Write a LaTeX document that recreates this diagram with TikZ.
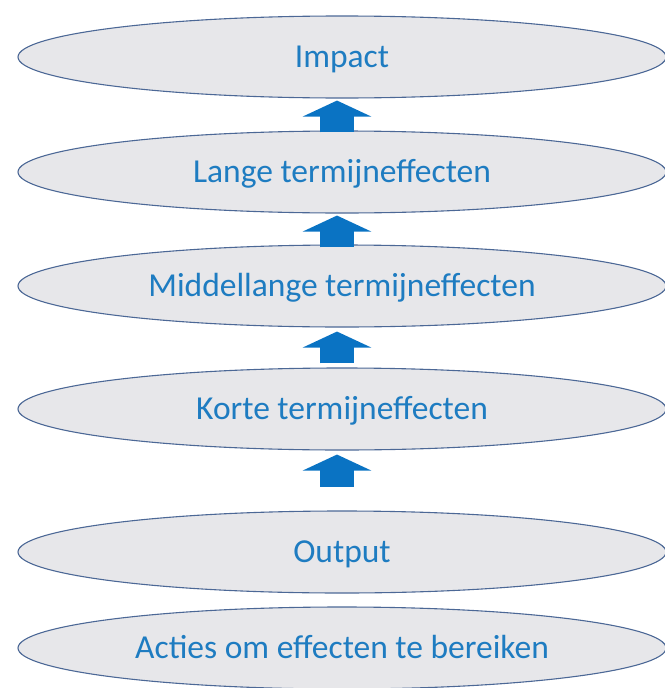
\documentclass[tikz,border=0pt]{standalone}
\usepackage{fontspec}
\setmainfont{Carlito}
\usepackage{tikz}
\usetikzlibrary{shapes.geometric,arrows.meta,positioning,calc}
\definecolor{ellfill}{RGB}{231,231,234}
\definecolor{elldraw}{RGB}{76,104,150}
\definecolor{txtblue}{RGB}{30,124,193}
\definecolor{arrblue}{RGB}{10,115,195}
\tikzstyle{niveau}=[ellipse, draw=elldraw, line width=1.1pt, fill=ellfill, minimum width=648pt, minimum height=82pt, inner sep=0pt, text=txtblue, font=\fontsize{33.5}{40}\selectfont, text height=21.5pt, text depth=0pt]
\tikzstyle{fleche}=[draw=arrblue, line width=34pt, -{Triangle[width=68pt,length=16pt]}]

\begin{document}
\begin{tikzpicture}[x=1pt,y=-1pt]

\useasboundingbox (0,0) rectangle (664,688);

% niveaux
\node[niveau] (impact) at (342,57) {Impact};
\node[niveau] (lange) at (342,172) {Lange termijneffecten};
\node[niveau] (middel) at (342,286) {Middellange termijneffecten};
\node[niveau] (korte) at (342,409) {Korte termijneffecten};
\node[niveau] (output) at (342,552) {Output};
\node[niveau] (acties) at (342,648) {Acties om effecten te bereiken};

% pijlen
\draw[fleche, shorten <=-2pt, shorten >=2pt] ([xshift=-5pt]lange.north) -- ([xshift=-5pt]impact.south);
\draw[fleche, shorten <=-3pt, shorten >=2pt] ([xshift=-5pt]middel.north) -- ([xshift=-5pt]lange.south);
\draw[fleche, shorten <=4pt, shorten >=4pt] ([xshift=-5pt]korte.north) -- ([xshift=-5pt]middel.south);
\coordinate (start) at ($(korte.south)+(-5,36)$);
\draw[fleche, shorten >=4pt] (start) -- ([xshift=-5pt]korte.south);

\end{tikzpicture}
\end{document}
